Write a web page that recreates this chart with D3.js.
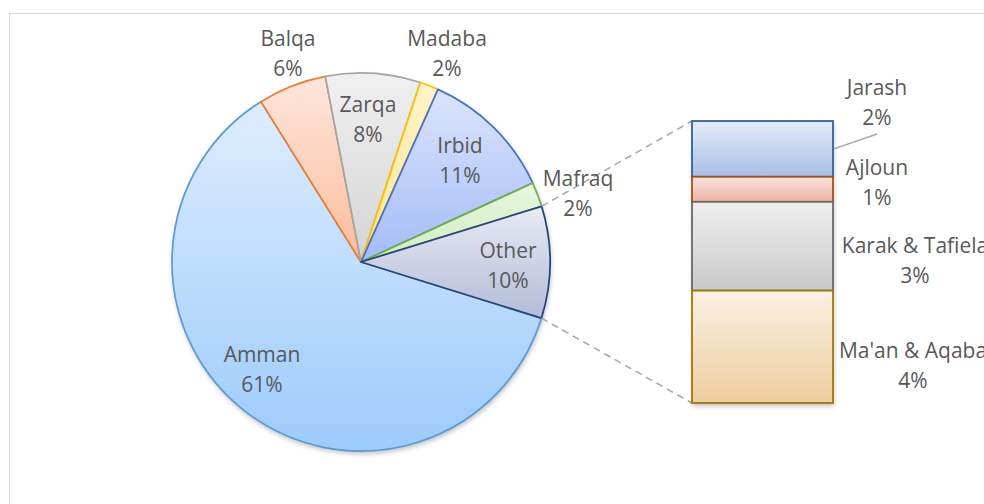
<!DOCTYPE html>
<html>
<head>
<meta charset="utf-8">
<script src="https://cdn.jsdelivr.net/npm/d3@7"></script>
<style>
  body { margin: 0; background: #fff; }
  .label { font-family: "Open Sans", sans-serif; font-size: 21px; fill: #595959; }
</style>
</head>
<body>
<div class="chart"></div>
<script>
// Bar of pie: population share by governorate

var svgWidth = 984;
var svgHeight = 504;

// pie slices (clockwise, starting from Amman)
var pieNames = ["Amman", "Balqa", "Zarqa", "Madaba", "Irbid", "Mafraq", "Other"];
var pieValues = [61.3, 5.85, 8.1, 1.6, 11.46, 2.1, 9.56];

// the "Other" slice broken out in the bar
var barNames = ["Jarash", "Ajloun", "Karak & Tafiela", "Ma'an & Aqaba"];
var barValues = [1.89, 0.85, 3.01, 3.81];

// colours: stroke, gradient top, gradient bottom
var pieStroke = ["#5b9bd5", "#ed7d31", "#a5a5a5", "#ffc000", "#4472c4", "#70ad47", "#264478"];
var pieTop = ["#deedfd", "#fde6dc", "#f0f0f0", "#fff4cc", "#dbe4fb", "#e8f6df", "#e8eaf3"];
var pieBottom = ["#9ccbfc", "#fcbc9c", "#d4d4d4", "#ffe590", "#a3bcf8", "#cdeebf", "#b3bbd8"];
var barStroke = ["#2e5f95", "#a34c12", "#666666", "#9c7500"];
var barTop = ["#e3ebf7", "#f9e3dd", "#efefef", "#faf0e5"];
var barBottom = ["#a8bfe6", "#eeb2a4", "#c9c9c9", "#eecd9f"];

// label anchors (Excel placed them), second line follows below
var pieLabelPos = [[262, 362], [288, 46], [368, 112], [447, 46], [460, 153], [578, 186], [508, 258]];
var barLabelPos = [[877, 95], [877, 175], [915, 253], [913, 358]];

var cx = 361, cy = 262, radius = 189;
var barLeft = 692, barRight = 833, barTopY = 121, barBottomY = 403;

var svg = d3.select(".chart")
    .append("svg")
    .attr("width", svgWidth)
    .attr("height", svgHeight);

var defs = svg.append("defs");

// soft shadow like Excel's outer shadow
var shadow = defs.append("filter")
    .attr("id", "shadow")
    .attr("x", "-20%").attr("y", "-20%")
    .attr("width", "140%").attr("height", "140%");
shadow.append("feDropShadow")
    .attr("dx", 1).attr("dy", 3)
    .attr("stdDeviation", 2.5)
    .attr("flood-color", "#000")
    .attr("flood-opacity", 0.25);

function addGradient(id, top, bottom) {
    var g = defs.append("linearGradient")
        .attr("id", id)
        .attr("x1", 0).attr("y1", 0)
        .attr("x2", 0).attr("y2", 1);
    g.append("stop").attr("offset", "0%").attr("stop-color", top);
    g.append("stop").attr("offset", "100%").attr("stop-color", bottom);
}
pieNames.forEach(function(d, i) { addGradient("pg" + i, pieTop[i], pieBottom[i]); });
barNames.forEach(function(d, i) { addGradient("bg" + i, barTop[i], barBottom[i]); });

// chart frame
svg.append("rect")
    .attr("x", 9.5)
    .attr("y", 13.5)
    .attr("width", 1000)
    .attr("height", 600)
    .attr("fill", "none")
    .attr("stroke", "#d9d9d9");

var pieTotal = d3.sum(pieValues);
var fmt = d3.format(".0%");

var start = 107.3 * Math.PI / 180;
var pie = d3.pie()
    .sort(null)
    .value(function(d) { return d; })
    .startAngle(start)
    .endAngle(start + 2 * Math.PI);

var arcs = pie(pieValues);
var arc = d3.arc().innerRadius(0).outerRadius(radius);

var pieGroup = svg.append("g")
    .attr("transform", "translate(" + cx + "," + cy + ")");

pieGroup.append("circle")
    .attr("r", radius)
    .attr("fill", "#fff")
    .attr("filter", "url(#shadow)");

pieGroup.selectAll("path")
    .data(arcs)
    .enter()
    .append("path")
    .attr("d", arc)
    .attr("fill", function(d, i) { return "url(#pg" + i + ")"; })
    .attr("stroke", function(d, i) { return pieStroke[i]; })
    .attr("stroke-width", 1.75)
    .attr("stroke-linejoin", "round");

// connector lines from the "Other" slice to the bar
var other = arcs[pieNames.indexOf("Other")];
function arcPoint(a) {
    return [cx + radius * Math.sin(a), cy - radius * Math.cos(a)];
}
var p1 = arcPoint(other.startAngle);
var p2 = arcPoint(other.endAngle);

svg.append("line")
    .attr("x1", p1[0]).attr("y1", p1[1])
    .attr("x2", barLeft).attr("y2", barTopY)
    .attr("stroke", "#a6a6a6").attr("stroke-width", 1.5)
    .attr("stroke-dasharray", "7,5");
svg.append("line")
    .attr("x1", p2[0]).attr("y1", p2[1])
    .attr("x2", barLeft).attr("y2", barBottomY)
    .attr("stroke", "#a6a6a6").attr("stroke-width", 1.5)
    .attr("stroke-dasharray", "7,5");

// stacked bar
var barTotal = d3.sum(barValues);
var yScale = d3.scaleLinear()
    .domain([0, barTotal])
    .range([barTopY, barBottomY]);
var xScale = d3.scaleBand()
    .domain(["Other"])
    .range([barLeft, barRight])
    .padding(0);

var stacked = [];
var acc = 0;
barValues.forEach(function(v, i) {
    stacked.push({ name: barNames[i], y0: acc, y1: acc + v, i: i });
    acc += v;
});

var barGroup = svg.append("g");
barGroup.append("rect")
    .attr("x", xScale("Other"))
    .attr("y", yScale(0))
    .attr("width", xScale.bandwidth())
    .attr("height", yScale(barTotal) - yScale(0))
    .attr("fill", "#fff")
    .attr("filter", "url(#shadow)");

barGroup.selectAll(".seg")
    .data(stacked)
    .enter()
    .append("rect")
    .attr("class", "seg")
    .attr("x", xScale("Other"))
    .attr("y", function(d) { return yScale(d.y0); })
    .attr("width", xScale.bandwidth())
    .attr("height", function(d) { return yScale(d.y1) - yScale(d.y0); })
    .attr("fill", function(d) { return "url(#bg" + d.i + ")"; })
    .attr("stroke", function(d) { return barStroke[d.i]; })
    .attr("stroke-width", 1.75);

// leader line for Jarash label
var jarashMid = (yScale(stacked[0].y0) + yScale(stacked[0].y1)) / 2;
svg.append("line")
    .attr("x1", barRight + 1).attr("y1", jarashMid)
    .attr("x2", 877).attr("y2", 134)
    .attr("stroke", "#a6a6a6").attr("stroke-width", 1.5);

// labels
function addLabel(name, pct, pos) {
    var t = svg.append("text")
        .attr("class", "label")
        .attr("text-anchor", "middle");
    t.append("tspan").attr("x", pos[0]).attr("y", pos[1]).text(name);
    t.append("tspan").attr("x", pos[0]).attr("y", pos[1] + 29.5).text(pct);
}

pieNames.forEach(function(n, i) {
    addLabel(n, fmt(pieValues[i] / pieTotal), pieLabelPos[i]);
});
barNames.forEach(function(n, i) {
    addLabel(n, fmt(barValues[i] / pieTotal), barLabelPos[i]);
});
</script>
</body>
</html>
